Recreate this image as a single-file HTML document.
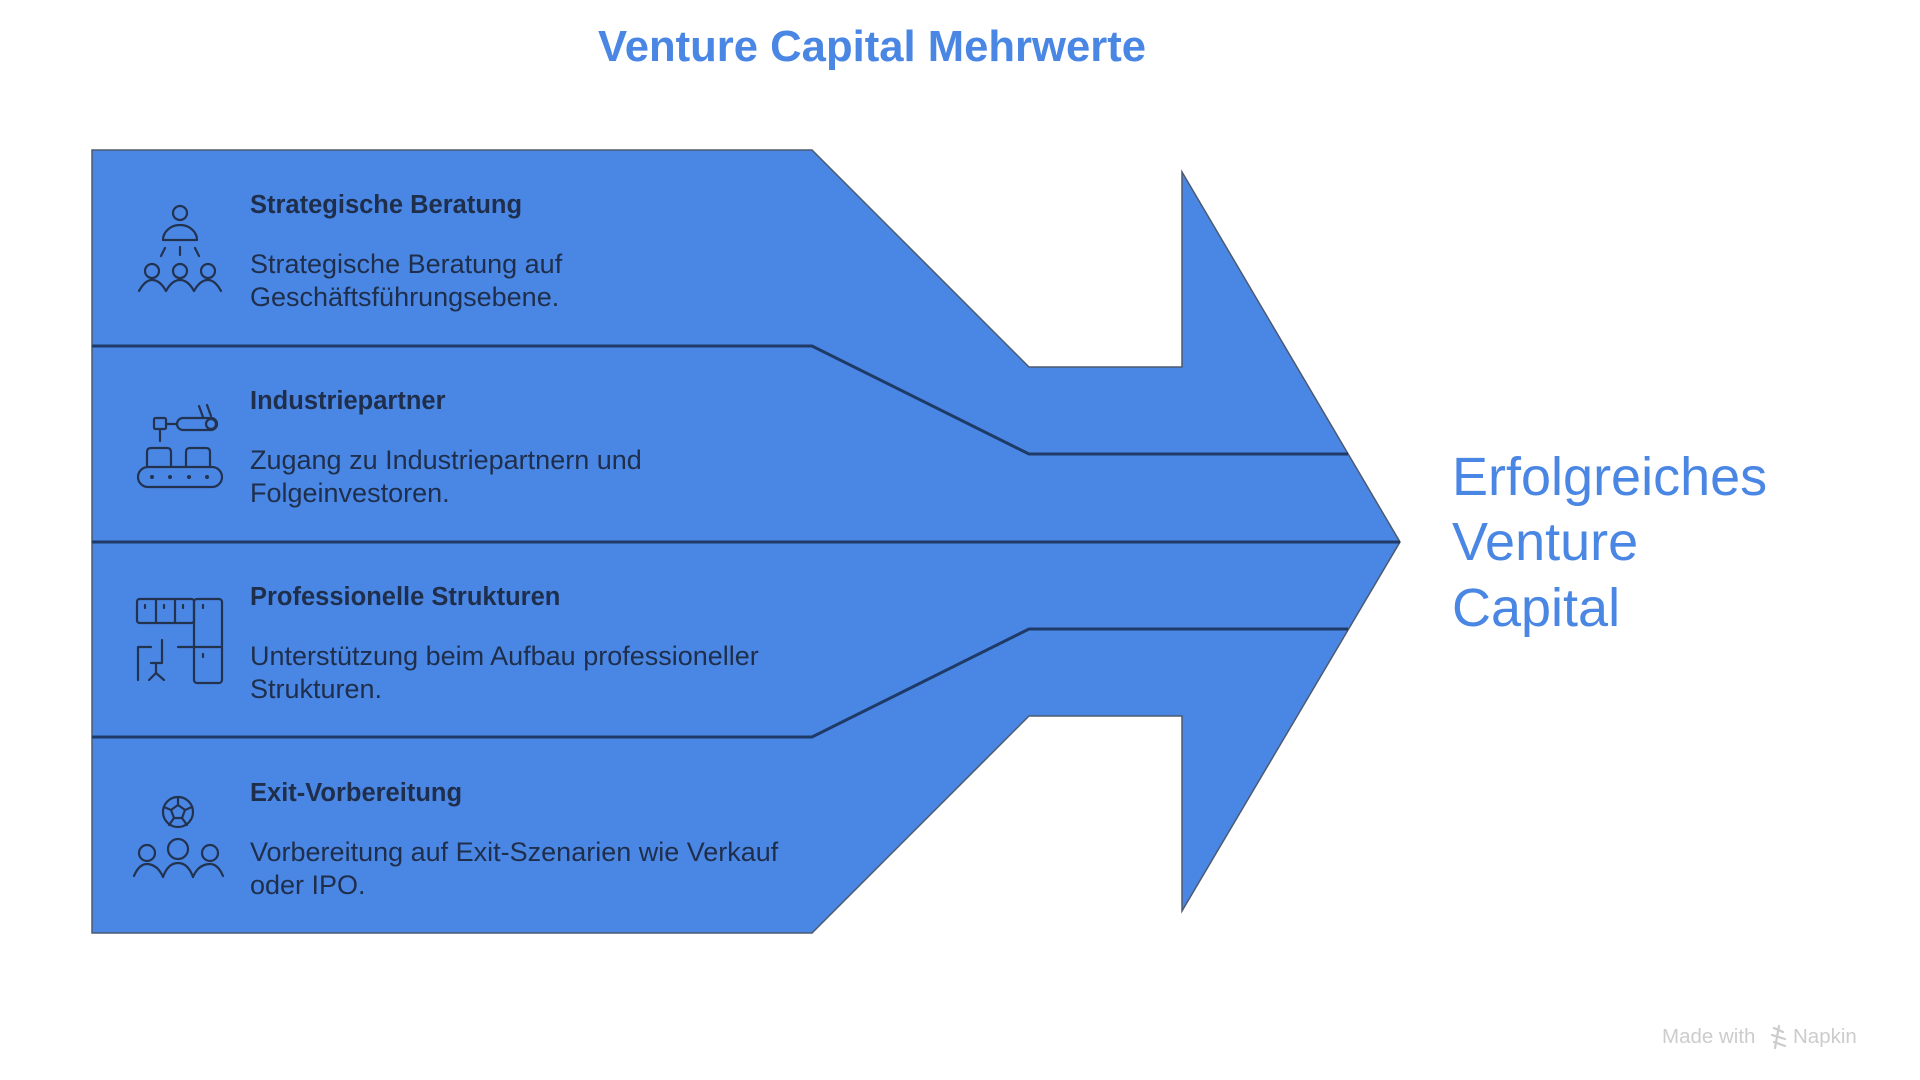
<!DOCTYPE html>
<html>
<head>
<meta charset="utf-8">
<style>
  html,body{margin:0;padding:0;background:#ffffff;}
  body{width:1920px;height:1080px;overflow:hidden;}
  svg{display:block;}
  .t{font-family:"Liberation Sans",Arial,sans-serif;}
</style>
</head>
<body>
<svg width="1920" height="1080" viewBox="0 0 1920 1080" xmlns="http://www.w3.org/2000/svg">
  <rect width="1920" height="1080" fill="#ffffff"/>

  <!-- Title -->
  <text class="t" x="598" y="61" font-size="44" font-weight="bold" fill="#4a86e3" textLength="548" lengthAdjust="spacingAndGlyphs">Venture Capital Mehrwerte</text>

  <!-- Main arrow shape -->
  <polygon points="92,150 812,150 1029,367 1182,367 1182,172 1400,542 1182,911 1182,716 1029,716 812,933 92,933"
           fill="#4a87e5" stroke="#4c5a70" stroke-width="1.5" stroke-linejoin="miter"/>

  <!-- Dividers -->
  <g fill="none" stroke="#1f3a66" stroke-width="3">
    <polyline points="92,346 812,346 1029,454 1348,454"/>
    <polyline points="92,542 1400,542"/>
    <polyline points="92,737 812,737 1029,629 1348,629"/>
  </g>

  <!-- Texts in bands -->
  <g class="t" fill="#1f2e4b">
    <text x="250" y="213" font-size="25.5" font-weight="bold">Strategische Beratung</text>
    <text x="250" y="273" font-size="27">Strategische Beratung auf</text>
    <text x="250" y="306" font-size="27">Geschäftsführungsebene.</text>

    <text x="250" y="409" font-size="25.5" font-weight="bold">Industriepartner</text>
    <text x="250" y="469" font-size="27">Zugang zu Industriepartnern und</text>
    <text x="250" y="502" font-size="27">Folgeinvestoren.</text>

    <text x="250" y="605" font-size="25.5" font-weight="bold">Professionelle Strukturen</text>
    <text x="250" y="665" font-size="27">Unterstützung beim Aufbau professioneller</text>
    <text x="250" y="698" font-size="27">Strukturen.</text>

    <text x="250" y="801" font-size="25.5" font-weight="bold">Exit-Vorbereitung</text>
    <text x="250" y="861" font-size="27">Vorbereitung auf Exit-Szenarien wie Verkauf</text>
    <text x="250" y="894" font-size="27">oder IPO.</text>
  </g>

  <!-- Icons -->
  <g fill="none" stroke="#22324f" stroke-width="2.2" stroke-linecap="round" stroke-linejoin="round">
    <!-- Icon 1: advisor + team -->
    <circle cx="180" cy="213" r="7"/>
    <path d="M163 240 A17 15 0 0 1 197 240 Z"/>
    <line x1="165" y1="248" x2="161" y2="256"/>
    <line x1="180" y1="247" x2="180" y2="255"/>
    <line x1="195" y1="248" x2="199" y2="256"/>
    <circle cx="152" cy="271" r="7"/>
    <circle cx="180" cy="271" r="7"/>
    <circle cx="208" cy="271" r="7"/>
    <path d="M139 291 Q145 280 152 280 Q160 280 166 291"/>
    <path d="M166 291 Q172 280 180 280 Q188 280 194 291"/>
    <path d="M194 291 Q200 280 208 280 Q215 280 221 291"/>

    <!-- Icon 2: robot arm + conveyor -->
    <rect x="154" y="418" width="12" height="11" rx="1.5"/>
    <line x1="160" y1="429" x2="160" y2="441"/>
    <line x1="166" y1="424" x2="177" y2="424"/>
    <rect x="177" y="418" width="40" height="12" rx="6"/>
    <circle cx="211" cy="424" r="5"/>
    <line x1="199" y1="406" x2="203" y2="417"/>
    <line x1="207" y1="405" x2="211" y2="416"/>
    <path d="M147 467 V452 Q147 448 151 448 H167 Q171 448 171 452 V467"/>
    <path d="M186 467 V452 Q186 448 190 448 H206 Q210 448 210 452 V467"/>
    <rect x="138" y="467" width="84" height="20" rx="10"/>
    <g fill="#22324f" stroke="none">
      <circle cx="152" cy="477" r="2"/>
      <circle cx="170" cy="477" r="2"/>
      <circle cx="189" cy="477" r="2"/>
      <circle cx="207" cy="477" r="2"/>
    </g>

    <!-- Icon 3: office structures -->
    <rect x="137" y="599" width="57" height="24" rx="2.5"/>
    <line x1="156" y1="599" x2="156" y2="623"/>
    <line x1="175" y1="599" x2="175" y2="623"/>
    <rect x="194" y="599" width="28" height="84" rx="3"/>
    <line x1="194" y1="647" x2="222" y2="647"/>
    <line x1="145" y1="605" x2="145" y2="608"/>
    <line x1="164" y1="605" x2="164" y2="608"/>
    <line x1="183" y1="605" x2="183" y2="608"/>
    <line x1="203" y1="605" x2="203" y2="608"/>
    <line x1="203" y1="654" x2="203" y2="657"/>
    <path d="M138 680 V647 H151"/>
    <path d="M162 640 V663 H151"/>
    <path d="M156 663 V673 L149 680 M156 673 L164 680"/>
    <line x1="178" y1="647" x2="194" y2="647"/>

    <!-- Icon 4: ball + team -->
    <circle cx="178" cy="812" r="15"/>
    <polygon points="178,805 185,810 182,818 174,818 171,810"/>
    <line x1="178" y1="805" x2="178" y2="797"/>
    <line x1="185" y1="810" x2="192" y2="807"/>
    <line x1="182" y1="818" x2="187" y2="825"/>
    <line x1="174" y1="818" x2="169" y2="825"/>
    <line x1="171" y1="810" x2="164" y2="807"/>
    <circle cx="147" cy="853" r="8"/>
    <circle cx="178" cy="849" r="10"/>
    <circle cx="210" cy="853" r="8"/>
    <path d="M134 876 Q139 864 147 864 Q152 864 157 868"/>
    <path d="M163 877 Q168 863 178 863 Q188 863 193 877"/>
    <path d="M199 868 Q204 864 210 864 Q218 864 223 876"/>
    <path d="M157 868 Q161 872 163 877"/>
    <path d="M193 877 Q195 872 199 868"/>
  </g>

  <!-- Right label -->
  <g class="t" fill="#4a86e3" font-size="54">
    <text x="1452" y="495">Erfolgreiches</text>
    <text x="1452" y="560">Venture</text>
    <text x="1452" y="626">Capital</text>
  </g>

  <!-- Footer -->
  <g class="t" fill="#cccccc" font-size="20.5">
    <text x="1662" y="1043">Made with</text>
    <g stroke="#cccccc" stroke-width="2.2" stroke-linecap="round">
      <line x1="1774" y1="1028" x2="1783" y2="1032"/>
      <line x1="1772" y1="1035" x2="1785" y2="1039"/>
      <line x1="1774" y1="1042" x2="1785" y2="1046"/>
      <line x1="1779" y1="1026" x2="1775" y2="1048"/>
    </g>
    <text x="1793" y="1043">Napkin</text>
  </g>
</svg>
</body>
</html>
